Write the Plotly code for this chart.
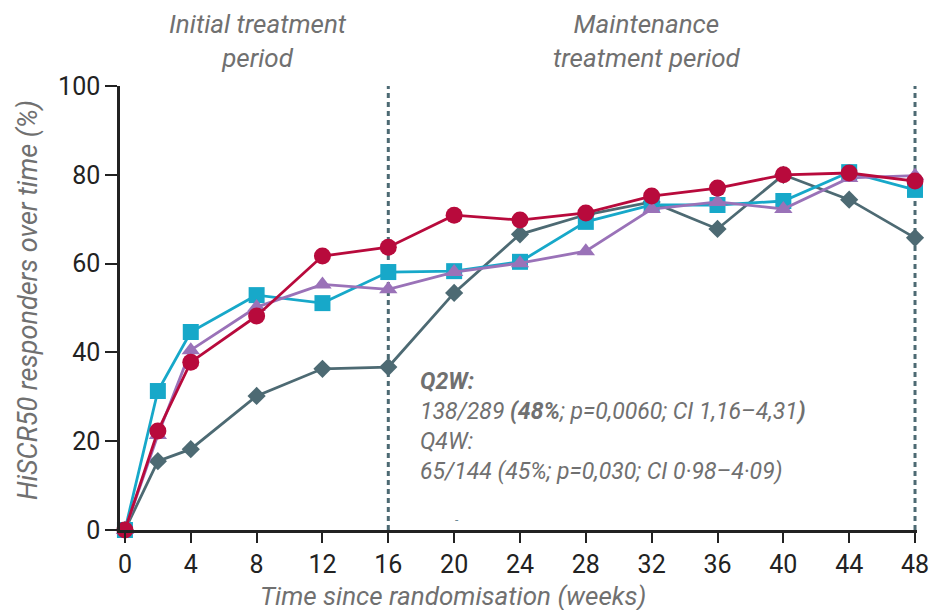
import plotly.graph_objects as go

weeks = [0, 2, 4, 8, 12, 16, 20, 24, 28, 32, 36, 40, 44, 48]
q2w_red = [0, 22.3, 37.8, 48.2, 61.7, 63.7, 70.9, 69.8, 71.4, 75.2, 77.0, 80.0, 80.4, 78.6]
cyan_sq = [0, 31.3, 44.6, 52.9, 51.1, 58.1, 58.3, 60.4, 69.4, 73.2, 73.2, 74.1, 80.6, 76.6]
purple_tri = [0, 21.4, 40.5, 50.2, 55.3, 54.2, 58.1, 60.1, 62.8, 72.3, 73.9, 72.3, 79.3, 79.8]
slate_dia = [0, 15.5, 18.2, 30.2, 36.3, 36.7, 53.4, 66.6, 71.0, 73.9, 67.8, 80.0, 74.4, 65.8]

x_ticks = [0, 4, 8, 12, 16, 20, 24, 28, 32, 36, 40, 44, 48]
y_ticks = [0, 20, 40, 60, 80, 100]
period_bounds = [16, 48]

FONT = "Roboto, Open Sans, sans-serif"
GREY = "#707070"

series = [
    (slate_dia, "#4d6a73", "diamond", 14),
    (cyan_sq, "#17a8c9", "square", 16),
    (purple_tri, "#9a72b8", "triangle-up", 16),
    (q2w_red, "#b80a3c", "circle", 17),
]

fig = go.Figure()
for ys, col, sym, sz in series:
    fig.add_trace(go.Scatter(
        x=weeks, y=ys, mode="lines+markers",
        line=dict(color=col, width=2.8),
        marker=dict(symbol=sym, size=sz, color=col),
        cliponaxis=False, showlegend=False,
    ))

for xb in period_bounds:
    fig.add_shape(type="line", xref="x", yref="y", x0=xb, x1=xb, y0=0, y1=100,
                  line=dict(color="#4d6a73", width=3, dash="5px,4px"), layer="below")

PL, PR = 120, 917

fig.update_layout(
    width=937, height=610,
    margin=dict(l=PL, r=937 - PR, t=86, b=80, autoexpand=False),
    paper_bgcolor="white", plot_bgcolor="white",
    font=dict(family=FONT, color="#222"),
    xaxis=dict(
        range=[-0.3, 48.12], tickvals=x_ticks, ticktext=[str(v) for v in x_ticks],
        showline=True, linecolor="#222", linewidth=2.5,
        ticks="outside", ticklen=10, tickwidth=2, tickcolor="#222",
        showgrid=False, zeroline=False, automargin=False,
        tickfont=dict(size=25, family=FONT, color="#222"),
    ),
    yaxis=dict(
        range=[0, 100], tickvals=y_ticks,
        showline=True, linecolor="#222", linewidth=2.5,
        ticks="outside", ticklen=12, tickwidth=2, tickcolor="#222",
        showgrid=False, zeroline=False, automargin=False,
        tickfont=dict(size=25, family=FONT, color="#222"),
    ),
)

def px_x(p):
    return (p - PL) / (PR - PL)

def px_y(p):
    return (530 - p) / 444

fig.add_annotation(xref="paper", yref="paper", x=px_x(453), y=px_y(596),
                   xanchor="center", yanchor="middle",
                   text="<i>Time since randomisation (weeks)</i>", showarrow=False,
                   font=dict(size=26, family=FONT, color=GREY))
fig.add_annotation(xref="paper", yref="paper", x=px_x(28), y=px_y(300),
                   xanchor="center", yanchor="middle", textangle=-90,
                   text="<i>HiSCR50 responders over time (%)</i>", showarrow=False,
                   font=dict(size=27, family=FONT, color=GREY))
fig.add_annotation(xref="paper", yref="paper", x=px_x(258), y=px_y(41),
                   xanchor="center", yanchor="middle",
                   text="<i>Initial treatment<br>period</i>", showarrow=False,
                   font=dict(size=26, family=FONT, color=GREY), align="center")
fig.add_annotation(xref="paper", yref="paper", x=px_x(647), y=px_y(41),
                   xanchor="center", yanchor="middle",
                   text="<i>Maintenance<br>treatment period</i>", showarrow=False,
                   font=dict(size=26, family=FONT, color=GREY), align="center")

note = ("<i><b>Q2W:</b><br>138/289 <b>(48%</b>; p=0,0060; CI 1,16–4,31<b>)</b><br>"
        "Q4W:<br>65/144 (45%; p=0,030; CI 0·98–4·09)</i>")
fig.add_annotation(xref="paper", yref="paper", x=px_x(418), y=px_y(366),
                   xanchor="left", yanchor="top",
                   text=note, showarrow=False, align="left",
                   font=dict(size=23, family=FONT, color=GREY))
fig.add_annotation(xref="x", yref="y", x=20.2, y=2.3, text="-", showarrow=False,
                   font=dict(size=12, family=FONT, color="#6a8a95"))

fig.write_html("out.html", config={"displayModeBar": False},
               post_script="document.body.style.margin='0';document.body.style.overflow='hidden';")
